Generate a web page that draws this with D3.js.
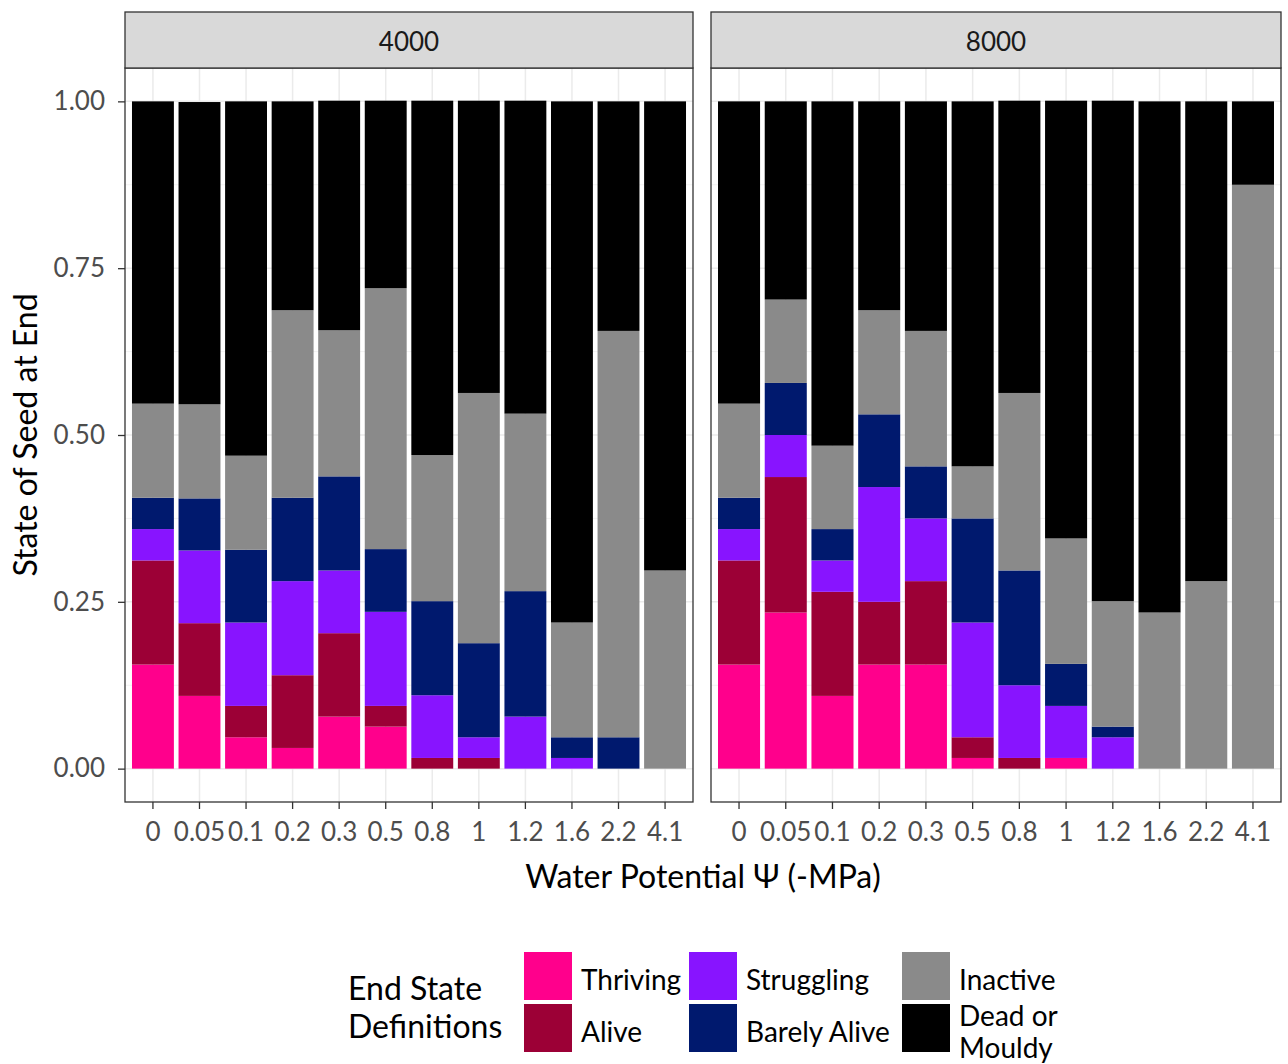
<!DOCTYPE html>
<html><head><meta charset="utf-8">
<script src="https://cdn.jsdelivr.net/npm/d3@7"></script>
<style>body{margin:0;background:#fff}svg text{font-family:Lato,"Open Sans",sans-serif}</style>
</head><body>
<svg id="c" width="1288" height="1064"></svg>
<script>
const potentials = ["0","0.05","0.1","0.2","0.3","0.5","0.8","1","1.2","1.6","2.2","4.1"];
const facets = ["4000","8000"];
const states = ["Thriving","Alive","Struggling","Barely Alive","Inactive","Dead or Mouldy"];
const stateColors = ["#ff008c","#9c0036","#8814ff","#00196e","#8a8a8a","#000000"];
const yTicks = [0,0.25,0.5,0.75,1];

// 4000 facet
const thriving4000   = [0.156,0.109,0.047,0.031,0.078,0.063,0,0,0,0,0,0];
const alive4000      = [0.156,0.109,0.047,0.109,0.125,0.031,0.016,0.016,0,0,0,0];
const struggling4000 = [0.047,0.109,0.125,0.141,0.094,0.141,0.094,0.031,0.078,0.016,0,0];
const barely4000     = [0.047,0.078,0.109,0.125,0.141,0.094,0.141,0.141,0.188,0.031,0.047,0];
const inactive4000   = [0.141,0.141,0.141,0.281,0.219,0.391,0.219,0.375,0.266,0.172,0.609,0.297];
const dead4000       = [0.453,0.453,0.531,0.313,0.344,0.281,0.531,0.438,0.469,0.781,0.344,0.703];
// 8000 facet
const thriving8000   = [0.156,0.234,0.109,0.156,0.156,0.016,0,0.016,0,0,0,0];
const alive8000      = [0.156,0.203,0.156,0.094,0.125,0.031,0.016,0,0,0,0,0];
const struggling8000 = [0.047,0.063,0.047,0.172,0.094,0.172,0.109,0.078,0.047,0,0,0];
const barely8000     = [0.047,0.078,0.047,0.109,0.078,0.156,0.172,0.063,0.016,0,0,0];
const inactive8000   = [0.141,0.125,0.125,0.156,0.203,0.078,0.266,0.188,0.188,0.234,0.281,0.875];
const dead8000       = [0.453,0.297,0.516,0.313,0.344,0.547,0.438,0.656,0.750,0.766,0.719,0.125];

const facetSeries = {
  "4000":[thriving4000,alive4000,struggling4000,barely4000,inactive4000,dead4000],
  "8000":[thriving8000,alive8000,struggling8000,barely8000,inactive8000,dead8000]
};

const svg = d3.select("#c");
const panels = [{x0:125,x1:693},{x0:711,x1:1281}];
const stripTop = 12, panelTop = 68, panelBottom = 802;
const y = d3.scaleLinear().domain([-0.05,1.05]).range([panelBottom,panelTop]);
const color = d3.scaleOrdinal().domain(states).range(stateColors);
const tickCol = "#4d4d4d", borderCol = "#333333";

facets.forEach((f,fi)=>{
  const p = panels[fi];
  const x = d3.scaleBand().domain(potentials).range([p.x0,p.x1]).paddingInner(0.1).paddingOuter(0.15);
  const g = svg.append("g");
  const minor = [0.125,0.375,0.625,0.875];
  g.selectAll(".ymin").data(minor).join("line")
    .attr("x1",p.x0).attr("x2",p.x1).attr("y1",d=>y(d)).attr("y2",d=>y(d))
    .attr("stroke","#f2f2f2").attr("stroke-width",1);
  g.selectAll(".ymaj").data(yTicks).join("line")
    .attr("x1",p.x0).attr("x2",p.x1).attr("y1",d=>y(d)).attr("y2",d=>y(d))
    .attr("stroke","#ebebeb").attr("stroke-width",1.5);
  g.selectAll(".xmaj").data(potentials).join("line")
    .attr("x1",d=>x(d)+x.bandwidth()/2).attr("x2",d=>x(d)+x.bandwidth()/2)
    .attr("y1",panelTop).attr("y2",panelBottom)
    .attr("stroke","#ebebeb").attr("stroke-width",1.5);

  const rows = potentials.map((pt,i)=>{
    const o = {pt};
    states.forEach((s,si)=>{ o[s] = facetSeries[f][si][i]; });
    return o;
  });
  const stacked = d3.stack().keys(states)(rows);
  g.selectAll(".layer").data(stacked).join("g")
    .attr("fill",d=>color(d.key))
    .selectAll("rect").data(d=>d).join("rect")
    .attr("x",d=>x(d.data.pt)).attr("width",x.bandwidth())
    .attr("y",d=>y(d[1])).attr("height",d=>Math.max(0,y(d[0])-y(d[1])));

  g.append("rect").attr("x",p.x0).attr("y",panelTop).attr("width",p.x1-p.x0).attr("height",panelBottom-panelTop)
    .attr("fill","none").attr("stroke",borderCol).attr("stroke-width",1.3);
  g.append("rect").attr("x",p.x0).attr("y",stripTop).attr("width",p.x1-p.x0).attr("height",panelTop-stripTop)
    .attr("fill","#d9d9d9").attr("stroke",borderCol).attr("stroke-width",1.3);
  g.append("text").attr("x",(p.x0+p.x1)/2).attr("y",(stripTop+panelTop)/2+2).attr("dy","0.36em")
    .attr("text-anchor","middle").attr("font-size",26).attr("fill","#1a1a1a").text(f);

  const xa = svg.append("g").attr("transform",`translate(0,${panelBottom})`)
    .call(d3.axisBottom(x).tickSize(7).tickPadding(14));
  xa.select(".domain").remove();
  xa.selectAll(".tick line").attr("stroke",borderCol).attr("stroke-width",1.3);
  xa.selectAll(".tick text").attr("font-size",26).attr("fill",tickCol).attr("font-family","Lato");

  if(fi===0){
    const ya = svg.append("g").attr("transform",`translate(${p.x0},0)`)
      .call(d3.axisLeft(y).tickValues(yTicks).tickFormat(d3.format(".2f")).tickSize(7).tickPadding(13));
    ya.select(".domain").remove();
    ya.selectAll(".tick line").attr("stroke",borderCol).attr("stroke-width",1.3);
    ya.selectAll(".tick text").attr("font-size",26).attr("fill",tickCol).attr("font-family","Lato");
  }
});

svg.append("text").attr("x",(125+1281)/2).attr("y",876).attr("dy","0.36em")
  .attr("text-anchor","middle").attr("font-size",32).attr("fill","#000").text("Water Potential Ψ (-MPa)");
svg.append("text").attr("transform",`translate(25,${(panelTop+panelBottom)/2}) rotate(-90)`).attr("dy","0.36em")
  .attr("text-anchor","middle").attr("font-size",32).attr("fill","#000").text("State of Seed at End");

const leg = svg.append("g");
leg.append("text").attr("x",348).attr("y",988).attr("dy","0.36em").attr("font-size",32).attr("fill","#000").text("End State");
leg.append("text").attr("x",348).attr("y",1026).attr("dy","0.36em").attr("font-size",32).attr("fill","#000").text("Definitions");
const colX = [524,689,902];
const rowY = [952,1004];
states.forEach((s,i)=>{
  const c = Math.floor(i/2), r = i%2;
  leg.append("rect").attr("x",colX[c]).attr("y",rowY[r]).attr("width",48).attr("height",48).attr("fill",color(s));
  const t = leg.append("text").attr("x",colX[c]+57).attr("font-size",28).attr("fill","#000");
  if(s==="Dead or Mouldy"){
    t.append("tspan").attr("x",colX[c]+57).attr("y",rowY[r]+12).attr("dy","0.36em").text("Dead or");
    t.append("tspan").attr("x",colX[c]+57).attr("y",rowY[r]+44).attr("dy","0.36em").text("Mouldy");
  } else {
    t.attr("y",rowY[r]+28).attr("dy","0.36em").text(s);
  }
});
</script>
</body></html>
